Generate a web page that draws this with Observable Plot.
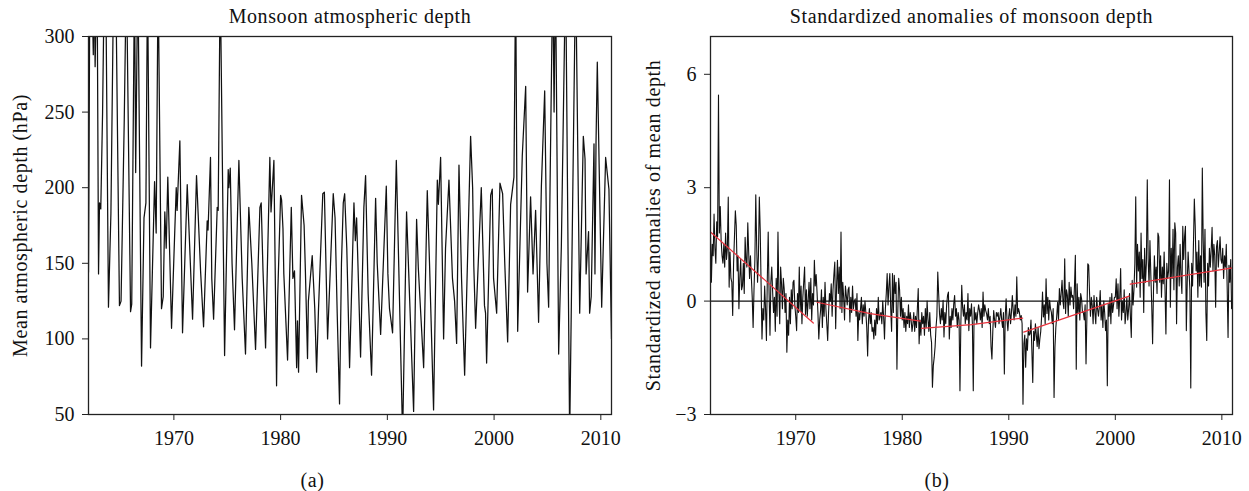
<!DOCTYPE html>
<html>
<head>
<meta charset="utf-8">
<script src="https://cdn.jsdelivr.net/npm/d3@7"></script>
<script src="https://cdn.jsdelivr.net/npm/@observablehq/plot@0.6"></script>
<style>
  html, body { margin: 0; padding: 0; background: #fff; }
  #wrap { display: flex; width: 1249px; height: 491px; }
</style>
</head>
<body>
<div id="wrap"></div>
<script>
// ---------- Panel (a): monsoon atmospheric depth (hPa), turning points ----------
const depthTime = [
  1962.00,1962.12,1962.30,1962.45,1962.52,1962.62,1962.80,1962.94,1963.03,1963.15,1963.32,1963.48,1963.62,
  1963.87,1964.10,1964.35,1964.55,1964.90,1965.05,1965.35,1965.55,1965.94,1966.05,1966.31,1966.42,1966.62,
  1966.97,1967.20,1967.38,1967.53,1967.81,1968.19,1968.34,1968.52,1968.84,1969.00,1969.15,1969.28,1969.43,
  1969.78,1970.10,1970.22,1970.30,1970.56,1970.81,1971.25,1971.75,1972.12,1972.50,1972.78,1973.12,1973.20,
  1973.43,1973.55,1973.72,1974.06,1974.15,1974.34,1974.75,1975.09,1975.15,1975.28,1975.45,1975.68,1976.09,
  1976.40,1976.71,1977.02,1977.30,1977.65,1978.06,1978.18,1978.35,1978.45,1978.59,1978.99,1979.10,1979.37,
  1979.62,1979.72,1980.00,1980.09,1980.22,1980.30,1980.65,1981.00,1981.15,1981.30,1981.50,1981.58,1981.68,
  1981.96,1982.20,1982.32,1982.52,1982.60,1982.96,1983.20,1983.37,1983.55,1983.95,1984.10,1984.40,1984.93,
  1985.10,1985.30,1985.52,1985.70,1985.87,1986.00,1986.20,1986.46,1986.87,1987.00,1987.12,1987.49,1987.80,
  1987.96,1988.20,1988.52,1988.90,1989.05,1989.37,1989.90,1990.05,1990.20,1990.49,1990.84,1991.00,1991.43,
  1991.80,1992.00,1992.46,1992.74,1992.90,1993.05,1993.40,1993.74,1993.95,1994.33,1994.68,1994.78,1994.99,
  1995.27,1995.45,1995.77,1996.10,1996.30,1996.49,1996.71,1996.95,1997.24,1997.80,1997.99,1998.10,1998.27,
  1998.80,1999.10,1999.20,1999.30,1999.68,1999.83,1999.95,2000.24,2000.55,2000.80,2001.00,2001.27,2001.55,
  2001.86,2002.02,2002.21,2002.64,2002.96,2003.14,2003.42,2003.65,2003.89,2004.17,2004.43,2004.74,2004.95,
  2005.11,2005.24,2005.50,2005.62,2005.75,2006.05,2006.30,2006.70,2007.08,2007.64,2008.02,2008.36,2008.52,
  2008.62,2008.85,2008.95,2009.10,2009.36,2009.45,2009.55,2009.67,2010.08,2010.45,2010.76,2011.00
];
const depthValue = [
  144,330,340,288,345,280,350,143,190,186,250,340,335,
  121,183,335,340,122,125,245,345,118,123,340,210,345,
  82,180,190,340,94,204,170,340,120,128,184,160,207,
  107,175,200,185,231,104,202,113,208,145,108,178,172,
  220,140,113,187,185,340,89,212,200,213,150,106,218,
  140,90,187,150,93,187,190,145,125,94,220,184,218,
  69,127,195,192,173,143,86,187,140,145,81,112,78,
  195,175,145,87,125,155,120,78,120,196,197,100,196,
  180,117,57,150,190,196,160,81,190,165,180,88,187,
  208,130,76,193,150,103,201,143,120,104,218,169,35,
  184,144,52,179,147,127,81,198,150,53,205,189,220,
  100,160,205,140,125,97,215,140,76,234,200,148,107,
  200,122,117,84,195,199,140,117,203,196,150,98,189,
  207,340,105,221,267,131,194,143,185,111,201,264,150,
  121,199,345,250,345,90,161,345,35,345,117,234,219,
  143,171,117,128,229,143,230,283,121,220,199,100
];

// ---------- Panel (b): standardized anomalies, monthly Jan 1962 – Dec 2010 ----------
const anomStartYear = 1962;
const anomalies = [
  /*1962*/ 1.8, 0.5, 1.5, 1.2, 2.3, 1.4, 1.0, 2.1, 1.7, 5.45, 1.8, 2.5,
  /*1963*/ 1.6, 1.2, 1.0, 1.5, 0.9, 1.8, 1.1, 1.4, 2.75, 0.37, 1.3, 0.6,
  /*1964*/ 0.5, -0.38, 1.0, 1.7, 2.39, 2.0, 0.8, 1.2, -0.2, 0.6, 1.1, 0.3,
  /*1965*/ 0.4, 1.0, 0.2, 1.69, 1.1, 0.9, 2.07, 1.3, 0.6, 1.2, 0.64, 0.1,
  /*1966*/ -0.7, 0.3, 1.1, 2.81, 1.5, 0.5, 1.2, 2.75, 1.9, 0.4, -1.0, -0.2,
  /*1967*/ -0.5, 0.4, -0.2, -1.04, 0.6, 1.83, 0.2, -0.9, 0.5, 0.9, 0.24, -0.3,
  /*1968*/ 0.1, -0.8, 0.6, -0.4, 1.83, 0.3, -0.6, 0.9, 0.46, -0.2, 0.6, 0.33,
  /*1969*/ -0.3, 0.2, -1.35, -0.5, -0.9, 0.1, -0.6, 0.3, -0.2, 0.5, 0.55, -0.1,
  /*1970*/ -0.4, -0.78, 0.2, -0.3, 0.9, -0.25, 0.4, -0.6, 0.1, 0.5, 0.9, -0.35,
  /*1971*/ 0.3, -0.4, 0.0, 0.5, -0.2, 0.6, -0.5, 0.2, -0.1, 1.08, 0.4, 0.7,
  /*1972*/ 0.24, -0.3, -1.0, -0.5, -0.25, 0.3, -0.7, 0.1, -0.4, 0.5, -0.2, -0.6,
  /*1973*/ -1.04, -0.3, 0.2, 0.0, 0.46, -0.4, 0.3, 0.7, 1.03, -0.73, 0.4, 1.08,
  /*1974*/ 0.2, 0.9, -0.2, 1.83, -0.3, 0.5, 0.1, -0.5, 0.4, 0.15, -0.1, 0.3,
  /*1975*/ 0.37, -0.55, 0.1, -0.3, 0.4, -0.2, 0.0, 0.06, -0.4, 0.2, -1.04, -0.3,
  /*1976*/ -0.5, -0.2, 0.1, -0.6, -0.1, -0.4, 0.0, -0.3, -0.7, -1.45, -0.5, -0.2,
  /*1977*/ -0.6, -0.3, -0.8, -0.7, -1.0, -0.5, -0.9, -0.2, -0.6, 0.1, -0.5, -0.4,
  /*1978*/ -0.3, -0.6, 0.0, -0.4, -1.0, -0.2, 0.2, 0.73, -0.1, 0.4, 0.73, -0.2,
  /*1979*/ -0.8, 0.73, -0.3, 0.68, 0.2, 0.5, -1.8, -0.25, 0.6, 0.3, -0.4, 0.1,
  /*1980*/ -0.5, -0.2, -0.7, -0.3, -0.8, -0.4, -0.6, -0.1, -0.7, -0.3, -0.5, -0.8,
  /*1981*/ -0.6, -0.3, -0.8, -0.4, -0.7, -0.2, 0.33, -1.13, -0.5, -0.9, -0.3, -0.6,
  /*1982*/ -0.4, -0.9, -0.2, -0.7, 0.0, -0.5, -0.8, -0.3, -0.9, -1.1, -2.28, -1.7,
  /*1983*/ -1.49, -1.2, -0.7, -0.4, 0.77, 0.2, -0.34, -0.6, -0.2, -0.5, 0.02, -0.95,
  /*1984*/ -0.3, -0.6, -0.1, 0.15, 0.24, -1.0, -0.4, -0.7, -0.2, -0.5, -0.07, 0.15,
  /*1985*/ -0.4, -0.2, -0.7, -0.3, -0.5, -2.37, -0.6, 0.42, -0.16, -0.4, -0.1, -0.6,
  /*1986*/ -0.3, -0.5, 0.2, -0.78, -0.2, -0.4, -0.07, -0.6, -2.37, -0.16, -0.5, -0.3,
  /*1987*/ -0.6, -0.3, -0.1, -0.25, -0.5, -0.2, -0.7, 0.24, -0.4, -0.1, -0.25, -0.33,
  /*1988*/ -0.5, -0.2, -0.6, -0.4, -1.2, -1.53, -0.8, -0.25, -0.5, -0.7, -0.3, -0.4,
  /*1989*/ -0.3, -0.6, -0.42, -0.2, -0.5, -0.7, -0.3, -1.93, -0.4, 0.06, -0.5, -0.78,
  /*1990*/ -0.4, -0.2, -0.6, -0.3, 0.15, -0.25, -0.5, -0.1, -0.4, 0.64, -0.33, -0.2,
  /*1991*/ -0.3, -0.5, -0.38, -0.6, -2.73, -1.13, -0.9, -1.75, -1.0, -1.3, -0.7, -0.9,
  /*1992*/ -0.87, -0.5, -1.3, -2.15, -0.8, -1.04, -0.6, -0.9, -1.2, -0.7, -1.26, -1.0,
  /*1993*/ -0.8, -0.4, 0.24, -0.42, -0.1, -0.6, 0.59, -0.33, 0.1, -0.5, 0.02, -0.2,
  /*1994*/ -0.3, -0.6, -0.2, -2.55, -1.22, -0.7, -0.4, -0.03, -0.5, 0.33, -0.1, 0.2,
  /*1995*/ 0.55, 0.0, -0.2, 1.12, -0.33, 0.3, 0.15, -0.4, 0.5, -0.1, 0.37, 0.1,
  /*1996*/ 0.15, -0.2, 0.4, 1.21, -1.8, 0.46, -0.3, 0.1, -0.5, 0.2, 0.06, -0.3,
  /*1997*/ -0.3, -0.5, -0.1, -1.66, -0.4, 0.99, 0.95, 0.2, -0.4, 0.1, -0.12, -0.6,
  /*1998*/ 0.15, -0.3, -0.6, 0.1, -0.2, -0.4, -0.16, 0.28, -0.5, -0.1, -0.7, 0.0,
  /*1999*/ -0.3, -0.78, -0.5, -2.24, -0.07, -0.4, 0.1, -0.6, 0.2, -0.3, -0.1, 0.1,
  /*2000*/ 0.1, 0.59, -0.2, 0.46, -0.4, 0.1, 0.86, -0.5, 0.0, -0.3, 0.3, -0.6,
  /*2001*/ -0.33, 0.1, -0.5, -0.2, 0.2, -0.4, -0.96, 0.55, -0.1, 0.3, 1.0, 2.76,
  /*2002*/ 0.37, 1.5, 0.8, 1.3, 0.1, 1.8, 0.6, 1.1, -0.3, 1.4, 0.5, 1.0,
  /*2003*/ 3.21, 1.12, 0.4, 1.6, 0.7, -0.1, -1.13, 0.28, 1.2, 0.5, 0.9, 0.2,
  /*2004*/ 1.8, 1.7, 0.5, 1.2, 0.1, 0.9, 0.46, 1.3, 0.3, -0.87, 1.0, 0.6,
  /*2005*/ 0.8, 3.21, -0.16, 1.4, 0.6, 1.9, 0.3, 2.07, 1.8, -0.6, 0.9, 1.2,
  /*2006*/ 0.4, 1.5, 0.64, 0.2, 1.98, 1.1, 1.7, 1.98, -0.78, 0.5, 1.3, 0.8,
  /*2007*/ 0.3, -2.3, 1.0, 0.4, 1.5, 2.7, 2.0, 0.8, 1.3, 0.1, 1.6, 0.4,
  /*2008*/ 1.2, 0.37, 3.52, 1.6, 0.5, 1.9, -0.3, -1.04, 1.0, 0.4, 1.4, 0.9,
  /*2009*/ 1.35, 1.95, 0.8, 1.5, 1.2, -0.16, 1.44, 1.6, 0.9, 1.3, 1.7, 1.1,
  /*2010*/ 1.0, 1.4, 0.6, 1.2, 0.9, 1.5, 0.37, -0.96, 0.95, 0.5, 1.1, -0.2
];

// Piecewise trend fits (red)
const trendSegment = [1, 1, 2, 2, 2, 3, 3, 3, 4, 4, 5, 5];
const trendTime    = [1962.0, 1971.65, 1972.0, 1977.0, 1981.7, 1981.8, 1986.5, 1991.3, 1991.4, 2001.3, 2001.4, 2011.0];
const trendValue   = [1.83, -0.58, -0.03, -0.33, -0.53, -0.72, -0.62, -0.45, -0.82, 0.13, 0.45, 0.88];

// Axis ticks and labels
const xTicks = [1970, 1980, 1990, 2000, 2010];
const depthTicks = [50, 100, 150, 200, 250, 300];
const anomTicks = [-3, 0, 3, 6];
const titleA = "Monsoon atmospheric depth";
const titleB = "Standardized anomalies of monsoon depth";
const yLabelA = "Mean atmospheric depth (hPa)";
const yLabelB = "Standardized anomalies of mean depth";
const captionA = "(a)";
const captionB = "(b)";

// ---------- build ----------
const depth = depthTime.map((t, i) => ({t, v: depthValue[i]}));
const anom = anomalies.map((v, i) => ({t: anomStartYear + i / 12, v}));
const trend = trendTime.map((t, i) => ({t, v: trendValue[i], s: trendSegment[i]}));

const FONT = "'Liberation Serif', 'Times New Roman', serif";
const FS = 20;

function panel({width, marginLeft, marginRight, yDomain, yTicks, data, title, ylabel, ylabelDx, caption, isAnom}) {
  const frameW = width - marginLeft - marginRight;
  const capDx = width / 2 - (marginLeft + frameW / 2);
  const extra = isAnom ? [
    Plot.ruleY([0], {stroke: "#111", strokeWidth: 1.3}),
    Plot.line(trend, {x: "t", y: "v", z: "s", stroke: "#e8323c", strokeWidth: 1.2})
  ] : [];
  const svg = Plot.plot({
    width, height: 491,
    marginLeft, marginRight, marginTop: 36, marginBottom: 77,
    style: {fontFamily: FONT, fontSize: FS + "px", color: "#111", background: "#fff"},
    x: {domain: [1962, 2011]},
    y: {domain: yDomain},
    marks: [
      Plot.line(data, {x: "t", y: "v", clip: true, stroke: "#111", strokeWidth: isAnom ? 1.1 : 1.25}),
      ...extra,
      Plot.frame({stroke: "#222", strokeWidth: 1.3}),
      Plot.axisX({ticks: xTicks, tickFormat: d => String(d), tickSize: 6, tickPadding: 10, label: null, stroke: "#222"}),
      Plot.axisY({ticks: yTicks, tickSize: 6, tickPadding: 8, label: null, stroke: "#222"}),
      Plot.text([title], {frameAnchor: "top", lineAnchor: "middle", textAnchor: "middle", dy: -20, text: d => d, fill: "#111"}),
      Plot.text([ylabel], {frameAnchor: "left", lineAnchor: "middle", textAnchor: "middle", dx: ylabelDx, rotate: -90, text: d => d, fill: "#111"}),
      Plot.text([caption], {frameAnchor: "bottom", lineAnchor: "middle", textAnchor: "middle", dx: capDx, dy: 66, text: d => d, fill: "#111"})
    ]
  });
  d3.select(svg).selectAll('g[aria-label="text"] text').attr("letter-spacing", "0.6px");
  return svg;
}

const left = panel({
  width: 624, marginLeft: 88, marginRight: 13, yDomain: [50, 300], yTicks: depthTicks,
  data: depth, title: titleA, ylabel: yLabelA, ylabelDx: -68, caption: captionA, isAnom: false
});
const right = panel({
  width: 625, marginLeft: 86, marginRight: 17, yDomain: [-3, 7], yTicks: anomTicks,
  data: anom, title: titleB, ylabel: yLabelB, ylabelDx: -57, caption: captionB, isAnom: true
});
document.getElementById("wrap").append(left, right);
</script>
</body>
</html>
